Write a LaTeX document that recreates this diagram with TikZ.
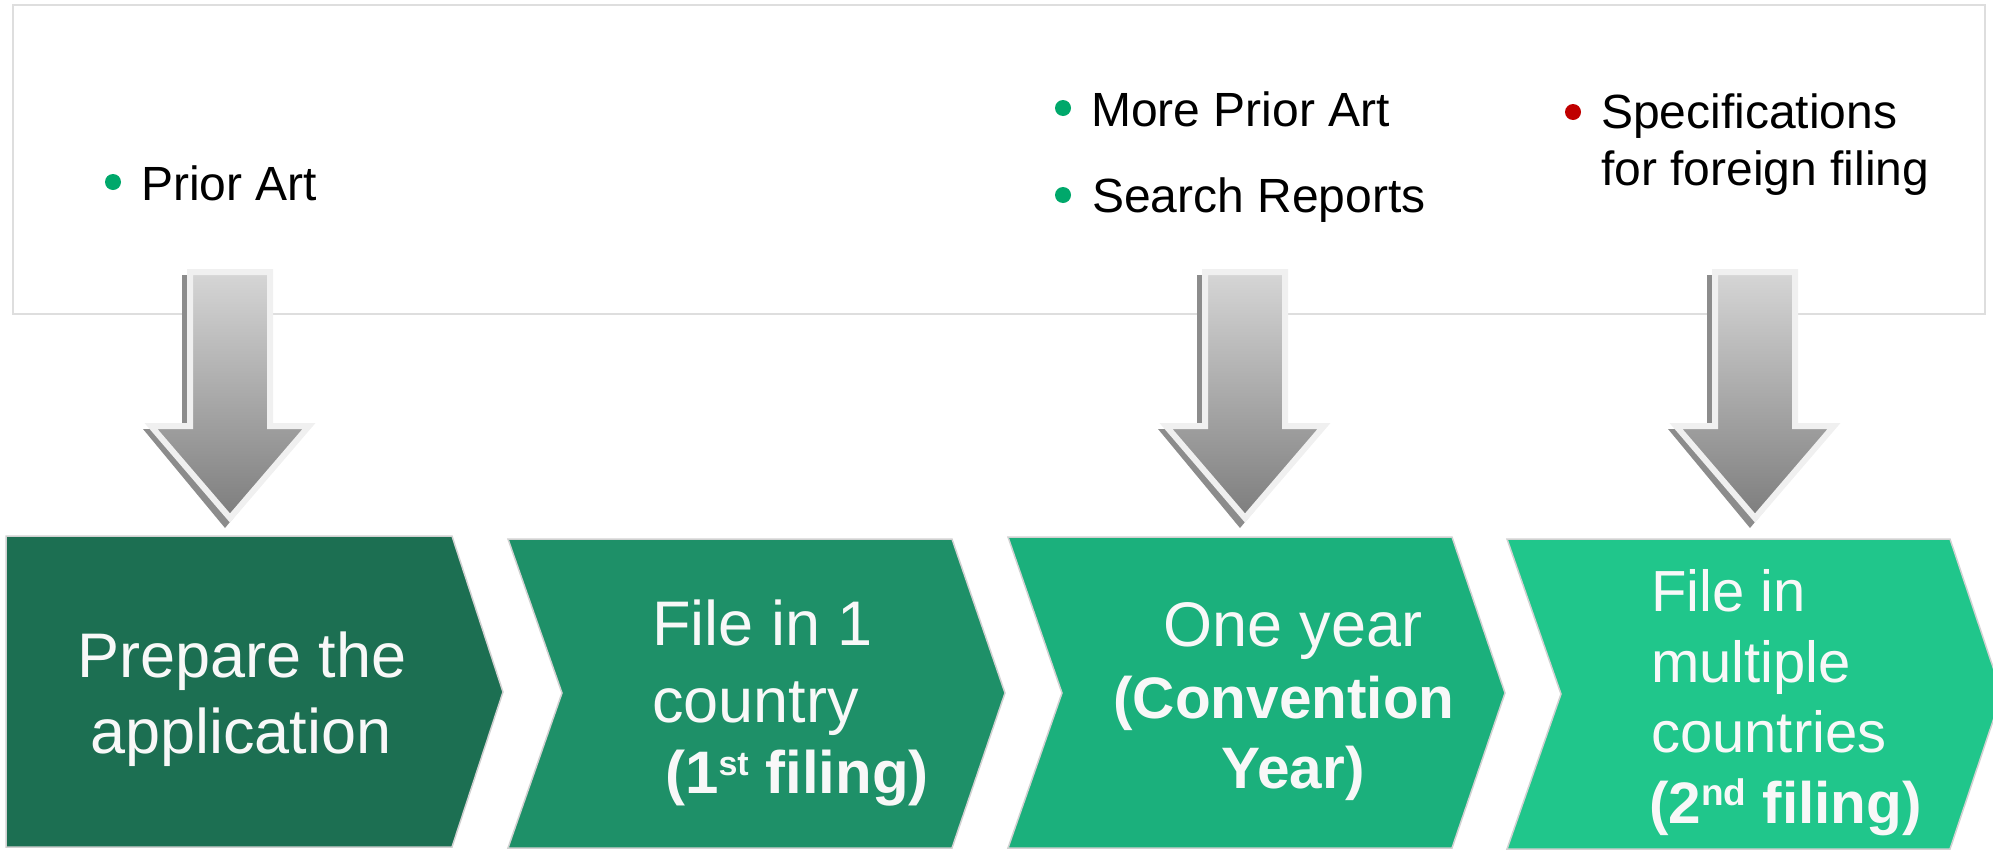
\documentclass[tikz,border=0pt]{standalone}
\usepackage{fontspec}
\setmainfont{Liberation Sans}
\definecolor{stepA}{RGB}{28,111,82}
\definecolor{stepB}{RGB}{30,144,104}
\definecolor{stepC}{RGB}{27,176,124}
\definecolor{stepD}{RGB}{32,198,139}
\definecolor{bulletgreen}{RGB}{0,168,107}
\definecolor{bulletred}{RGB}{192,0,0}
\definecolor{steptext}{RGB}{248,248,248}
\definecolor{panelline}{RGB}{222,222,222}
\definecolor{arrowrim}{RGB}{240,240,240}
\definecolor{arrowshadow}{RGB}{140,140,140}
\definecolor{arrowtop}{RGB}{214,214,214}
\definecolor{arrowbottom}{RGB}{125,125,125}
\newcommand{\supst}[1]{\raisebox{18pt}{\fontsize{34}{34}\selectfont #1}}
\newcommand{\supnd}[1]{\raisebox{18pt}{\fontsize{37}{37}\selectfont #1}}
\begin{document}
\begin{tikzpicture}[x=1pt,y=-1pt,
  panel/.style={draw=panelline,line width=1.5,fill=white},
  stagebox/.style={draw=white!82!black,line width=1.5},
  stagetext/.style={inner sep=0,text=steptext,font=\fontsize{63}{76}\selectfont},
  stagebold/.style={inner sep=0,text=steptext,font=\fontsize{60}{72}\selectfont\bfseries},
  note/.style={inner sep=0,text=black,font=\fontsize{48}{58}\selectfont},
  dot/.style={circle,inner sep=0,minimum size=16pt}]
\path[use as bounding box,clip] (0,0) rectangle (1993,849);

% notes panel
\draw[panel] (13,5) rectangle (1985,314);
\node[dot,fill=bulletgreen] (b1) at (113,182) {};
\node[note,anchor=base west] (n1) at (141,200) {Prior Art};
\node[dot,fill=bulletgreen] (b2) at (1063,108) {};
\node[note,anchor=base west] (n2) at (1091,126) {More Prior Art};
\node[dot,fill=bulletgreen] (b3) at (1063,195) {};
\node[note,anchor=base west] (n3) at (1092,212) {Search Reports};
\node[dot,fill=bulletred] (b4) at (1573,112) {};
\node[note,anchor=base west] (n4a) at (1601,128) {Specifications};
\node[note,anchor=base west] (n4b) at (1601,185) {for foreign filing};

% block arrows from the panel down to the stages
\foreach \cx in {230,1245,1755}{
  \fill[arrowshadow,shift={(-5,6)}]
    ({\cx-43},269) -- ({\cx+43},269) -- ({\cx+43},423) -- ({\cx+82},423)
    -- (\cx,522) -- ({\cx-82},423) -- ({\cx-43},423) -- cycle;
  \draw[draw=arrowrim,line width=6,line join=miter,top color=arrowtop,bottom color=arrowbottom]
    ({\cx-40},272) -- ({\cx+40},272) -- ({\cx+40},426) -- ({\cx+79},426)
    -- (\cx,518) -- ({\cx-79},426) -- ({\cx-40},426) -- cycle;
}

% process stages
\filldraw[stagebox,fill=stepA] (6,536) -- (452,536) -- (503,692) -- (452,847) -- (6,847) -- cycle;
\filldraw[stagebox,fill=stepB] (508,539) -- (952,539) -- (1005,693) -- (952,848) -- (508,848) -- (562,693) -- cycle;
\filldraw[stagebox,fill=stepC] (1008,537) -- (1452,537) -- (1505,693) -- (1452,848) -- (1008,848) -- (1062,693) -- cycle;
\filldraw[stagebox,fill=stepD] (1507,539) -- (1950,539) -- (2002,694) -- (1950,849) -- (1507,849) -- (1561,694) -- cycle;

% stage labels
\node[stagetext,anchor=base] (s1a) at (242,677) {Prepare the};
\node[stagetext,anchor=base] (s1b) at (241,753) {application};

\node[stagetext,anchor=base west] (s2a) at (652,645) {File in 1};
\node[stagetext,anchor=base west] (s2b) at (652,722) {country};
\node[stagebold,anchor=base west] (s2c) at (665,793) {(1\supst{st} filing)};

\node[stagetext,anchor=base] (s3a) at (1293,646) {One year};
\node[stagebold,font=\fontsize{58.5}{70}\selectfont\bfseries,anchor=base] (s3b) at (1284,718) {(Convention};
\node[stagebold,font=\fontsize{58.5}{70}\selectfont\bfseries,anchor=base] (s3c) at (1293,788) {Year)};

\node[stagetext,font=\fontsize{58}{70}\selectfont,anchor=base west] (s4a) at (1651,611) {File in};
\node[stagetext,font=\fontsize{58}{70}\selectfont,anchor=base west] (s4b) at (1651,682) {multiple};
\node[stagetext,font=\fontsize{58}{70}\selectfont,anchor=base west] (s4c) at (1651,752) {countries};
\node[stagebold,font=\fontsize{58.5}{70}\selectfont\bfseries,anchor=base west] (s4d) at (1649,823) {(2\supnd{nd} filing)};
\end{tikzpicture}
\end{document}
